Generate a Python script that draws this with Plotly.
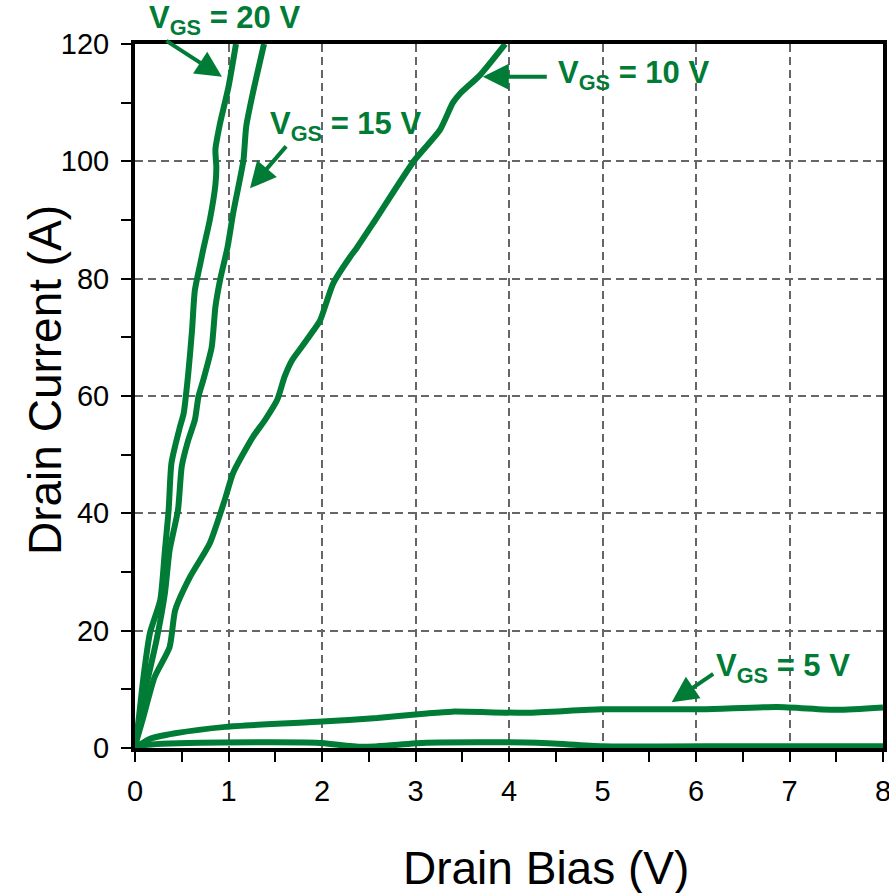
import plotly.graph_objects as go

# ---- data ----
v20_x = [0, 0.04, 0.09, 0.16, 0.27, 0.32, 0.36, 0.39, 0.48, 0.52, 0.57, 0.61, 0.64, 0.70, 0.73, 0.80, 0.86, 0.87, 0.86, 0.91, 1.00, 1.08]
v20_y = [0, 5, 12, 19.6, 25.2, 33.7, 40.6, 48.6, 54.7, 57, 63.9, 71.2, 78, 82.7, 85, 90, 96, 99, 102, 106.5, 112.7, 120]

v15_x = [0, 0.05, 0.11, 0.23, 0.32, 0.37, 0.46, 0.50, 0.57, 0.64, 0.68, 0.73, 0.82, 0.86, 0.91, 0.99, 1.05, 1.12, 1.16, 1.19, 1.26, 1.38]
v15_y = [0, 5, 9.9, 18.4, 26.4, 33.7, 40.6, 48, 52.5, 55.9, 60, 62.7, 68.3, 75.2, 79.8, 85.4, 91.2, 96.8, 100.2, 106, 111.6, 120]

v10_x = [0, 0.02, 0.09, 0.21, 0.37, 0.43, 0.59, 0.80, 0.96, 1.05, 1.26, 1.39, 1.52, 1.60, 1.68, 1.78, 1.91, 1.98, 2.12, 2.30, 2.37, 2.57, 2.99, 3.26, 3.40, 3.48, 3.69, 3.96]
v10_y = [0, 1.4, 5.3, 12.1, 17.2, 23.5, 29.2, 34.9, 42.3, 46.9, 53, 55.9, 59.3, 63.3, 66.1, 68.3, 71.2, 72.9, 79.2, 83.7, 85.2, 90, 100.2, 105.3, 110, 111.6, 114.7, 120]

v5_x = [0, 0.15, 0.43, 0.97, 2.0, 2.59, 3.12, 3.39, 4.19, 4.99, 6.06, 6.87, 7.51, 8.0]
v5_y = [0, 1.5, 2.5, 3.6, 4.5, 5.1, 5.9, 6.2, 6.0, 6.6, 6.6, 7.0, 6.5, 6.9]

v0_x = [0, 0.1, 0.7, 1.94, 2.43, 3.12, 4.3, 5.0, 6.5, 8.0]
v0_y = [0, 0.5, 0.9, 0.9, 0.2, 0.9, 0.9, 0.3, 0.3, 0.3]

x_ticks = [0, 1, 2, 3, 4, 5, 6, 7, 8]
y_ticks = [0, 20, 40, 60, 80, 100, 120]

GREEN = "#007C36"
FONT = "Liberation Sans, Arial, sans-serif"

fig = go.Figure()
for xs, ys in [(v0_x, v0_y), (v5_x, v5_y), (v10_x, v10_y), (v15_x, v15_y), (v20_x, v20_y)]:
    fig.add_trace(go.Scatter(x=xs, y=ys, mode="lines",
                             line=dict(color=GREEN, width=6, shape="spline", smoothing=0.6),
                             showlegend=False, hoverinfo="skip"))

# labels: (text, x, y, ref) -- the 20 V label sits above the plot area, so it is paper-placed
labels = [
    ("<b>V<sub>GS</sub> = 20 V</b>", 0.119, 1.034, "paper"),
    ("<b>V<sub>GS</sub> = 15 V</b>", 2.25, 106.0, "data"),
    ("<b>V<sub>GS</sub> = 10 V</b>", 5.33, 114.7, "data"),
    ("<b>V<sub>GS</sub> = 5 V</b>", 6.93, 13.6, "data"),
]
for t, x, y, ref in labels:
    fig.add_annotation(x=x, y=y, text=t, showarrow=False,
                       xref="paper" if ref == "paper" else "x",
                       yref="paper" if ref == "paper" else "y",
                       font=dict(family=FONT, size=31, color=GREEN),
                       xanchor="center", yanchor="middle")

# arrows: (head_x, head_y, tail_x, tail_y)
arrows = [
    (0.93, 114.4, 0.32, 120.7),
    (1.23, 95.4, 1.63, 102.8),
    (3.72, 114.4, 4.42, 114.4),
    (5.74, 7.8, 6.20, 12.8),
]
for hx, hy, tx, ty in arrows:
    fig.add_annotation(x=hx, y=hy, ax=tx, ay=ty, xref="x", yref="y", axref="x", ayref="y",
                       text="", showarrow=True, arrowhead=2, arrowsize=1.3, arrowwidth=4,
                       arrowcolor=GREEN)

# axis titles
fig.add_annotation(x=0.549, y=-0.170, xref="paper", yref="paper", text="Drain Bias (V)",
                   showarrow=False, font=dict(family=FONT, size=46, color="black"),
                   xanchor="center", yanchor="middle")
fig.add_annotation(x=-0.120, y=0.523, xref="paper", yref="paper", text="Drain Current (A)",
                   showarrow=False, textangle=-90, font=dict(family=FONT, size=46, color="black"),
                   xanchor="center", yanchor="middle")

axis_common = dict(
    showline=True, linewidth=4, linecolor="black", mirror=True,
    ticks="outside", ticklen=10, tickwidth=2, tickcolor="black",
    showgrid=True, gridcolor="#666666", gridwidth=1.5, griddash="8px,5px",
    zeroline=False, tickfont=dict(family=FONT, size=29, color="black"),
    ticklabeloverflow="allow",
)
fig.update_xaxes(range=[0, 8], tickvals=x_ticks, ticktext=[str(v) for v in x_ticks],
                 minor=dict(dtick=0.5, tick0=0, ticks="outside", ticklen=10, tickwidth=2,
                            tickcolor="black", showgrid=False),
                 ticklabelstandoff=4, **axis_common)
fig.update_yaxes(range=[0, 120], tickvals=y_ticks, ticktext=[str(v) for v in y_ticks],
                 minor=dict(dtick=10, tick0=0, ticks="outside", ticklen=10, tickwidth=2,
                            tickcolor="black", showgrid=False),
                 ticklabelstandoff=6, **axis_common)

fig.update_layout(width=889, height=893,
                  margin=dict(l=135, r=6, t=44, b=145, autoexpand=False),
                  plot_bgcolor="white", paper_bgcolor="white",
                  font=dict(family=FONT))
fig.write_html("out.html", config={"displayModeBar": False},
               post_script="document.body.style.margin='0';document.body.style.overflow='hidden';")
